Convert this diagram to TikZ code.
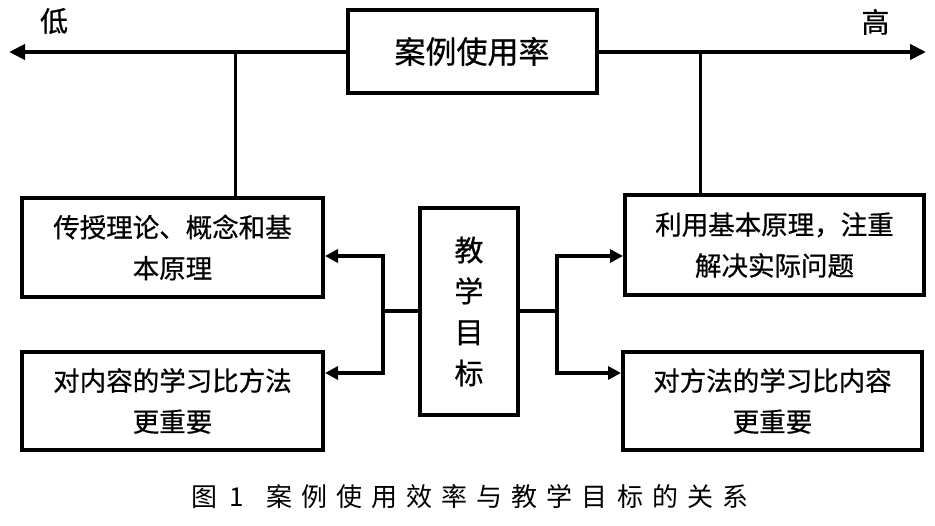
\documentclass[tikz,border=0pt]{standalone}
\usepackage{fontspec}
\setmainfont{Noto Sans CJK SC}
\usetikzlibrary{arrows.meta}
\begin{document}
\begin{tikzpicture}[x=1pt,y=-1pt,
 box/.style={draw,line width=4pt,rectangle,inner sep=0pt,font=\fontsize{26.5}{41}\selectfont\addfontfeatures{FakeBold=0.6},align=center},
 conn/.style={line width=4pt},
 arr/.style={conn,-{Triangle[length=13pt,width=13pt]}},
 axarr/.style={conn,-{Triangle[length=16pt,width=15pt]}},
 vline/.style={line width=3pt},
 lbl/.style={font=\fontsize{28}{30}\selectfont\addfontfeatures{FakeBold=0.6},inner sep=0pt}]
\useasboundingbox[fill=white] (0,0) rectangle (935,526);
\node[box,minimum width=249pt,minimum height=83pt,font=\fontsize{31}{34}\selectfont\addfontfeatures{FakeBold=0.6}] (top) at (472,51.5) {案例使用率};
\node[box,minimum width=301pt,minimum height=99pt] (lt) at (172.5,247.5) {传授理论、概念和基\\本原理};
\node[box,minimum width=301pt,minimum height=98pt] (lb) at (172.5,401) {对内容的学习比方法\\更重要};
\node[box,minimum width=98pt,minimum height=207pt,font=\fontsize{29}{41}\selectfont\addfontfeatures{FakeBold=0.6}] (goal) at (469,311.5) {教\\学\\目\\标};
\node[box,minimum width=299pt,minimum height=100pt] (rt) at (774.5,245) {利用基本原理，注重\\解决实际问题};
\node[box,minimum width=299pt,minimum height=98pt] (rb) at (772.5,401) {对方法的学习比内容\\更重要};
\node[lbl] (low) at (54,21) {低};
\node[lbl] (high) at (875.5,22) {高};
\node[font=\fontsize{26}{30}\selectfont\addfontfeatures{LetterSpace=35}] (cap) at (470,497) {图\hspace{12pt}1\hspace{22pt}案例使用效率与教学目标的关系};
\coordinate (lend) at (9,52);
\coordinate (rend) at (926,52);
\draw[axarr] (top.west |- lend) -- (lend);
\draw[axarr] (top.east |- rend) -- (rend);
\coordinate (lv) at (235,52);
\coordinate (rv) at (700,52);
\draw[vline] (lv) -- (lv |- lt.north);
\draw[vline] (rv) -- (rv |- rt.north);
\coordinate (jl) at (383,311.5);
\coordinate (jr) at (557,311.5);
\draw[conn] (goal.west) -- (jl);
\draw[conn] (goal.east) -- (jr);
\draw[arr] (jl) |- ([yshift=-8.5pt]lt.east);
\draw[arr] (jl) |- ([yshift=28pt]lb.east);
\draw[arr] (jr) |- ([yshift=-11pt]rt.west);
\draw[arr] (jr) |- ([yshift=28pt]rb.west);
\end{tikzpicture}
\end{document}
